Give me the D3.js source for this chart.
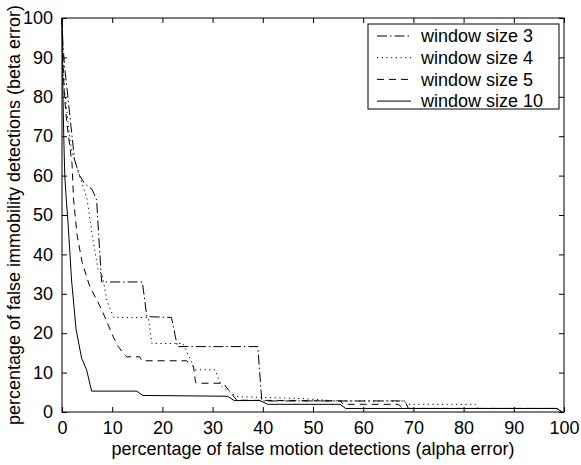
<!DOCTYPE html>
<html><head><meta charset="utf-8">
<script src="https://cdn.jsdelivr.net/npm/d3@7"></script>
<style>
html,body{margin:0;padding:0;background:#fff;}
text{font-family:"Liberation Sans",Arial,Helvetica,sans-serif;fill:#000;}
</style></head>
<body>
<svg id="chart" width="581" height="465"></svg>
<script>
const xTicks = [0,10,20,30,40,50,60,70,80,90,100];
const yTicks = [0,10,20,30,40,50,60,70,80,90,100];
const seriesNames = ["window size 3","window size 4","window size 5","window size 10"];

const w3 = [[0,100],[0.2,93],[0.5,88],[1,82],[1.5,76],[2,70],[2.5,64],[3.5,60],[4.5,58],[6,56.5],[6.9,53.8],[7.3,45],[7.9,33],[16,33],[16.9,24.2],[21.8,24],[23,16.6],[39,16.6],[39.8,2.8],[68.3,2.8],[69,0.9],[98.6,0.9],[99.6,0]];
const w4 = [[0,100],[0.2,90],[0.5,82],[1,76],[1.5,70],[2,66],[3,62],[4,58],[5,54],[6,45],[7.2,36],[8,35],[9,28],[10.3,24],[17.2,24],[17.9,17.4],[24.1,17.4],[26.5,10.7],[30.5,10.7],[31.8,6.5],[34.8,3.9],[48,3.4],[55,2.8],[68.3,2.8],[68.7,1.95],[82.3,1.95],[83,0.9],[98.6,0.9],[99.6,0]];
const w5 = [[0,100],[0.2,88],[0.5,80],[1,73],[1.5,68],[2,63],[2.3,54],[3,45],[4,38],[5.5,32],[7.9,26],[10.2,19.1],[11.2,16.6],[12.5,14.5],[12.9,14],[15.5,14],[15.9,13],[24.8,13],[26.2,11.5],[26.6,7.5],[27.2,7.3],[32.1,7.3],[34.8,3.0],[55.5,2.8],[56,1.95],[67,1.95],[68,0.9],[98.6,0.9],[99.6,0]];
const w10 = [[0,100],[0.1,90],[0.2,80],[0.35,70],[0.55,60],[0.9,53],[1.1,50],[1.5,42],[1.9,33.5],[2.8,21],[3.9,13.7],[4.9,10.7],[5.9,5.3],[14.9,5.3],[16.1,4.2],[33,4.0],[34.3,2.9],[39.4,2.9],[41,1.95],[55.4,1.95],[56.5,0.9],[98.6,0.9],[99.6,0]];
const seriesData = [w3,w4,w5,w10];
const dashes = ["10,3,1.5,3","1.2,3.5","7,5",null];

const svg = d3.select("#chart");
const L=62, R=564, T=18, B=412;
const x = d3.scaleLinear().domain([0,100]).range([L,R]);
const y = d3.scaleLinear().domain([0,100]).range([B,T]);
const fs = 18;

// box
svg.append("rect").attr("x",L).attr("y",T).attr("width",R-L).attr("height",B-T)
  .attr("fill","none").attr("stroke","#000").attr("stroke-width",1);

// axes
const xb = svg.append("g").attr("transform",`translate(0,${B})`)
  .call(d3.axisBottom(x).tickValues(xTicks).tickSize(-5).tickPadding(9).tickFormat(d3.format("d")));
const xt = svg.append("g").attr("transform",`translate(0,${T})`)
  .call(d3.axisTop(x).tickValues(xTicks).tickSize(-5).tickFormat(""));
const yl = svg.append("g").attr("transform",`translate(${L},0)`)
  .call(d3.axisLeft(y).tickValues(yTicks).tickSize(-5).tickPadding(9).tickFormat(d3.format("d")));
const yr = svg.append("g").attr("transform",`translate(${R},0)`)
  .call(d3.axisRight(y).tickValues(yTicks).tickSize(-5).tickFormat(""));
[xb,xt,yl,yr].forEach(g=>{
  g.select(".domain").remove();
  g.selectAll("line").attr("stroke","#000");
  g.selectAll("text").style("font-size",fs+"px").attr("fill","#000");
});
xb.selectAll("text").attr("dy","0.71em");

// lines
const line = d3.line().x(d=>x(d[0])).y(d=>y(d[1]));
seriesData.forEach((s,i)=>{
  svg.append("path").datum(s).attr("d",line).attr("fill","none")
    .attr("stroke","#000").attr("stroke-width",1)
    .attr("stroke-dasharray",dashes[i]);
});

// titles
svg.append("text").attr("x",(L+R)/2).attr("y",455).attr("text-anchor","middle")
  .style("font-size",fs+"px").text("percentage of false motion detections (alpha error)");
svg.append("text").attr("transform",`translate(20,${(T+B)/2}) rotate(-90)`).attr("text-anchor","middle")
  .style("font-size",fs+"px").text("percentage of false immobility detections (beta error)");

// legend
const lg = svg.append("g");
lg.append("rect").attr("x",368).attr("y",24).attr("width",191).attr("height",85)
  .attr("fill","#fff").attr("stroke","#000").attr("stroke-width",1);
seriesNames.forEach((n,i)=>{
  const yy = 36 + i*21.7;
  lg.append("line").attr("x1",377).attr("x2",411).attr("y1",yy).attr("y2",yy)
    .attr("stroke","#000").attr("stroke-width",1).attr("stroke-dasharray",dashes[i]);
  lg.append("text").attr("x",421).attr("y",yy).attr("dy","0.35em")
    .style("font-size",fs+"px").text(n);
});
</script>
</body></html>
